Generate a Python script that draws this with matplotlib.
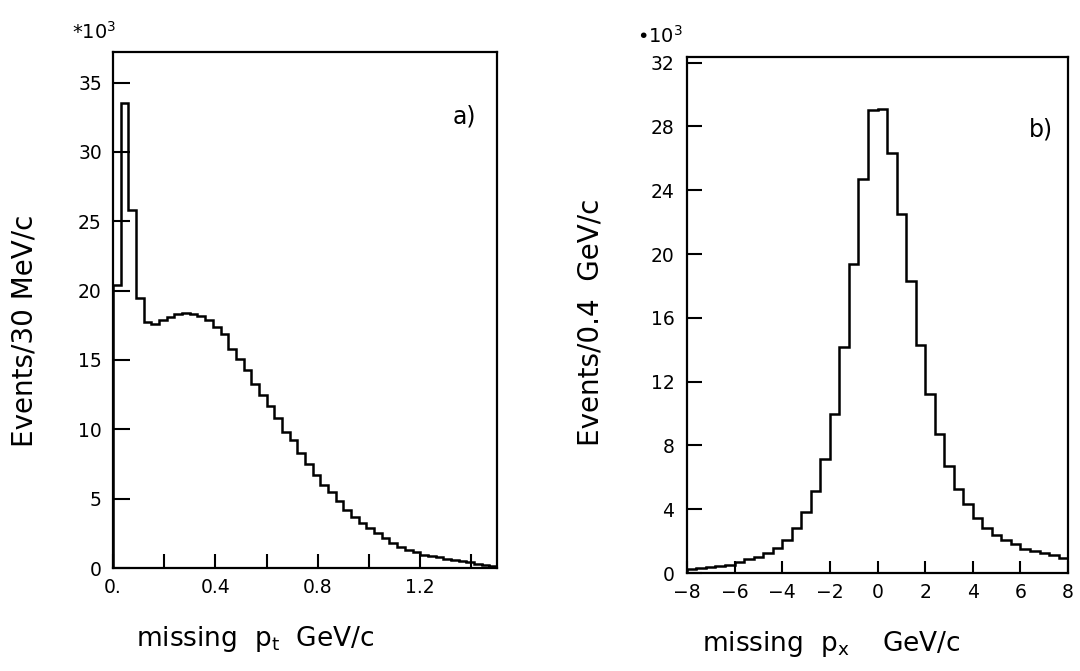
import matplotlib
matplotlib.use("Agg")
import matplotlib.pyplot as plt
import numpy as np
from matplotlib.ticker import MultipleLocator, FixedLocator, FixedFormatter

# a) missing pt, 30 MeV/c bins from 0 to 1.5 GeV/c (events in units of 10^3)
pt_bin_width = 0.03
pt_start = 0.0
pt_counts = [
    20.4, 33.5, 25.8, 19.5, 17.7, 17.6, 17.9, 18.1, 18.3, 18.35,
    18.3, 18.2, 17.9, 17.4, 16.9, 15.8, 15.1, 14.3, 13.3, 12.5,
    11.7, 10.8, 9.8, 9.2, 8.3, 7.5, 6.7, 6.0, 5.5, 4.8,
    4.2, 3.7, 3.25, 2.9, 2.5, 2.15, 1.8, 1.55, 1.3, 1.15,
    0.96, 0.88, 0.78, 0.68, 0.58, 0.5, 0.4, 0.32, 0.22, 0.15,
]

# b) missing px, 0.4 GeV/c bins from -8 to 8 GeV/c (events in units of 10^3)
px_bin_width = 0.4
px_start = -8.0
px_counts = [
    0.25, 0.3, 0.35, 0.42, 0.5, 0.67, 0.85, 1.0, 1.26, 1.6,
    2.05, 2.8, 3.8, 5.15, 7.15, 10.0, 14.2, 19.4, 24.7, 29.0,
    29.1, 26.35, 22.5, 18.3, 14.3, 11.2, 8.7, 6.7, 5.25, 4.3,
    3.45, 2.85, 2.4, 2.1, 1.8, 1.5, 1.37, 1.26, 1.1, 0.95,
]

pt_ticks = [0.0, 0.4, 0.8, 1.2]
pt_ticklabels = ["0.", "0.4", "0.8", "1.2"]
pt_yticks = [0, 5, 10, 15, 20, 25, 30, 35]
px_ticks = [-8, -6, -4, -2, 0, 2, 4, 6, 8]
px_ticklabels = ["\u22128", "\u22126", "\u22124", "\u22122", "0", "2", "4", "6", "8"]
px_yticks = [0, 4, 8, 12, 16, 20, 24, 28, 32]

plt.rcParams["font.family"] = ["DejaVu Sans"]

fig = plt.figure(figsize=(10.8, 6.71), dpi=100)
ax1 = fig.add_axes([0.1046, 0.1535, 0.3556, 0.769])
ax2 = fig.add_axes([0.636, 0.146, 0.353, 0.769])

pt_edges = pt_start + pt_bin_width * np.arange(len(pt_counts) + 1)
px_edges = px_start + px_bin_width * np.arange(len(px_counts) + 1)

ax1.stairs(pt_counts, pt_edges, baseline=0, color="black", lw=1.8)
ax2.stairs(px_counts, px_edges, baseline=0, color="black", lw=1.8)


def style(ax):
    for s in ax.spines.values():
        s.set_linewidth(1.6)
    ax.tick_params(which="both", direction="in", top=False, right=False,
                   width=1.5, labelsize=13.5, colors="black")


# panel a
ax1.set_xlim(0, 1.5)
ax1.set_ylim(0, 37.2)
ax1.xaxis.set_major_locator(FixedLocator(pt_ticks))
ax1.xaxis.set_major_formatter(FixedFormatter(pt_ticklabels))
ax1.xaxis.set_minor_locator(MultipleLocator(0.2))
ax1.set_yticks(pt_yticks)
style(ax1)
ax1.tick_params(axis="x", which="both", length=10, pad=7)
ax1.tick_params(axis="y", length=12, pad=8)
ax1.text(0.915, 0.875, "a)", transform=ax1.transAxes, fontsize=17,
         ha="center", va="center")

# panel b
ax2.set_xlim(-8, 8)
ax2.set_ylim(0, 32.35)
ax2.xaxis.set_major_locator(FixedLocator(px_ticks))
ax2.xaxis.set_major_formatter(FixedFormatter(px_ticklabels))
ax2.set_yticks(px_yticks)
style(ax2)
ax2.tick_params(axis="x", length=9, pad=7)
ax2.tick_params(axis="y", length=11, pad=9)
ax2.text(0.93, 0.86, "b)", transform=ax2.transAxes, fontsize=17,
         ha="center", va="center")

# multipliers
fig.text(0.087, 0.953, "*10$^3$", fontsize=14, ha="center", va="center")
fig.text(0.611, 0.946, "\u202210$^3$", fontsize=14, ha="center", va="center")

# axis titles
fig.text(0.023, 0.507, "Events/30 MeV/c", rotation=90, fontsize=20,
         ha="center", va="center")
fig.text(0.547, 0.519, "Events/0.4  GeV/c", rotation=90, fontsize=20,
         ha="center", va="center")
fig.text(0.236, 0.048, "missing  p$\\mathregular{_t}$  GeV/c", fontsize=19,
         ha="center", va="center")
fig.text(0.770, 0.040, "missing  p$\\mathregular{_x}$    GeV/c", fontsize=19,
         ha="center", va="center")

fig.savefig("out.png", dpi=100)
